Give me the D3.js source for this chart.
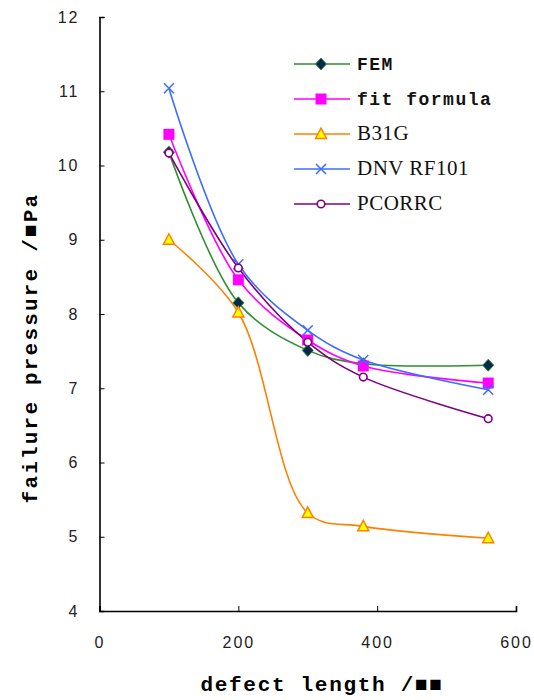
<!DOCTYPE html>
<html>
<head>
<meta charset="utf-8">
<script src="https://cdn.jsdelivr.net/npm/d3@7"></script>
<style>
  body { margin: 0; background: #fff; }
  svg { display: block; }
</style>
</head>
<body>
<div id="chart"></div>
<script>
// chart data
const defectLength = [100, 200, 300, 380, 560];
const seriesNames = ["FEM", "fit formula", "B31G", "DNV RF101", "PCORRC"];
const femValues = [10.18, 8.15, 7.51, 7.33, 7.31];
const fitValues = [10.42, 8.46, 7.65, 7.30, 7.07];
const b31gValues = [9.0, 8.02, 5.32, 5.14, 4.98];
const dnvValues = [11.04, 8.67, 7.78, 7.38, 6.98];
const pcorrcValues = [10.17, 8.62, 7.62, 7.15, 6.59];
const xTicks = [0, 200, 400, 600];
const yTicks = [4, 5, 6, 7, 8, 9, 10, 11, 12];

const width = 534;
const height = 700;

const styles = {
    "FEM": { line: "#2f8f2f", fill: "#06284a", stroke: "#2f8f2f", symbol: "diamond" },
    "fit formula": { line: "#ff00ff", fill: "#ff00ff", stroke: "#ff00ff", symbol: "square" },
    "B31G": { line: "#ff8000", fill: "#ffff00", stroke: "#ff8000", symbol: "triangle" },
    "DNV RF101": { line: "#3d6dff", fill: "none", stroke: "#3d6dff", symbol: "cross" },
    "PCORRC": { line: "#800080", fill: "#fff", stroke: "#800080", symbol: "circle" }
};

const allValues = [femValues, fitValues, b31gValues, dnvValues, pcorrcValues];
const series = seriesNames.map((name, i) => ({
    name: name,
    points: defectLength.map((x, j) => ({ x: x, y: allValues[i][j] }))
}));

const svg = d3.select("#chart")
    .append("svg")
    .attr("width", width)
    .attr("height", height);

const x = d3.scaleLinear().domain([0, 600]).range([99.5, 516]);
const y = d3.scaleLinear().domain([4, 12]).range([611, 17]);

// axes: only left and bottom, ticks pointing inwards
svg.append("g")
    .attr("transform", `translate(0,${y(4)})`)
    .call(d3.axisBottom(x).tickValues(xTicks).tickSizeInner(-5).tickSizeOuter(-5).tickPadding(26))
    .call(g => g.select(".domain").attr("stroke-width", 1.6))
    .call(g => g.selectAll("text")
        .attr("font-family", "Liberation Sans, Arial, sans-serif")
        .attr("font-size", 16)
        .attr("letter-spacing", 2)
        .attr("fill", "#222"));

svg.append("g")
    .attr("transform", `translate(${x(0)},0)`)
    .call(d3.axisLeft(y).tickValues(yTicks).tickSizeInner(-5).tickSizeOuter(-5).tickPadding(20))
    .call(g => g.select(".domain").attr("stroke-width", 1.6))
    .call(g => g.selectAll("text")
        .attr("font-family", "Liberation Sans, Arial, sans-serif")
        .attr("font-size", 16)
        .attr("letter-spacing", 2)
        .attr("fill", "#222"));

// axis titles
svg.append("text")
    .attr("x", 322)
    .attr("y", 691)
    .attr("text-anchor", "middle")
    .attr("font-family", "Liberation Mono, monospace")
    .attr("font-weight", "bold")
    .attr("font-size", 21)
    .attr("letter-spacing", 1.7)
    .text("defect length /■■");

svg.append("text")
    .attr("transform", "translate(37,348) rotate(-90)")
    .attr("text-anchor", "middle")
    .attr("font-family", "Liberation Mono, monospace")
    .attr("font-weight", "bold")
    .attr("font-size", 21)
    .attr("letter-spacing", 2.2)
    .text("failure pressure /■Pa");

const line = d3.line()
    .x(d => x(d.x))
    .y(d => y(d.y))
    .curve(d3.curveCatmullRom.alpha(0.5));

function drawMarker(g, name, cx, cy) {
    const s = styles[name];
    if (s.symbol === "diamond") {
        g.append("path")
            .attr("d", `M${cx},${cy - 6}L${cx + 5.5},${cy}L${cx},${cy + 6}L${cx - 5.5},${cy}Z`)
            .attr("fill", s.fill).attr("stroke", s.stroke).attr("stroke-width", 1);
    } else if (s.symbol === "square") {
        g.append("rect")
            .attr("x", cx - 5.5).attr("y", cy - 5.5)
            .attr("width", 11).attr("height", 11)
            .attr("fill", s.fill);
    } else if (s.symbol === "triangle") {
        g.append("path")
            .attr("d", `M${cx},${cy - 6}L${cx + 5.5},${cy + 4.5}L${cx - 5.5},${cy + 4.5}Z`)
            .attr("fill", s.fill).attr("stroke", s.stroke).attr("stroke-width", 1.5);
    } else if (s.symbol === "cross") {
        g.append("path")
            .attr("d", `M${cx - 5},${cy - 5}L${cx + 5},${cy + 5}M${cx - 5},${cy + 5}L${cx + 5},${cy - 5}`)
            .attr("stroke", s.stroke).attr("stroke-width", 1.5);
    } else {
        g.append("circle")
            .attr("cx", cx).attr("cy", cy).attr("r", 3.8)
            .attr("fill", s.fill).attr("stroke", s.stroke).attr("stroke-width", 1.6);
    }
}

// lines then markers
const plot = svg.append("g");
series.forEach(s => {
    plot.append("path")
        .datum(s.points)
        .attr("d", line)
        .attr("fill", "none")
        .attr("stroke", styles[s.name].line)
        .attr("stroke-width", 1.6);
});
series.forEach(s => {
    const g = plot.append("g");
    s.points.forEach(p => drawMarker(g, s.name, x(p.x), y(p.y)));
});

// legend
const legendY = d3.scalePoint().domain(seriesNames).range([64, 204]);
const legend = svg.append("g");
seriesNames.forEach(name => {
    const ly = legendY(name);
    legend.append("line")
        .attr("x1", 294).attr("x2", 350)
        .attr("y1", ly).attr("y2", ly)
        .attr("stroke", styles[name].line)
        .attr("stroke-width", 1.6);
    drawMarker(legend, name, 321, ly);
    const mono = name === "FEM" || name === "fit formula";
    legend.append("text")
        .attr("x", 357)
        .attr("y", ly + 6)
        .attr("font-family", mono ? "Liberation Mono, monospace" : "Liberation Serif, Times New Roman, serif")
        .attr("font-weight", mono ? "bold" : "normal")
        .attr("font-size", mono ? 18 : 21)
        .attr("letter-spacing", mono ? 1.5 : 0.5)
        .attr("fill", "#111")
        .text(name);
});
</script>
</body>
</html>
